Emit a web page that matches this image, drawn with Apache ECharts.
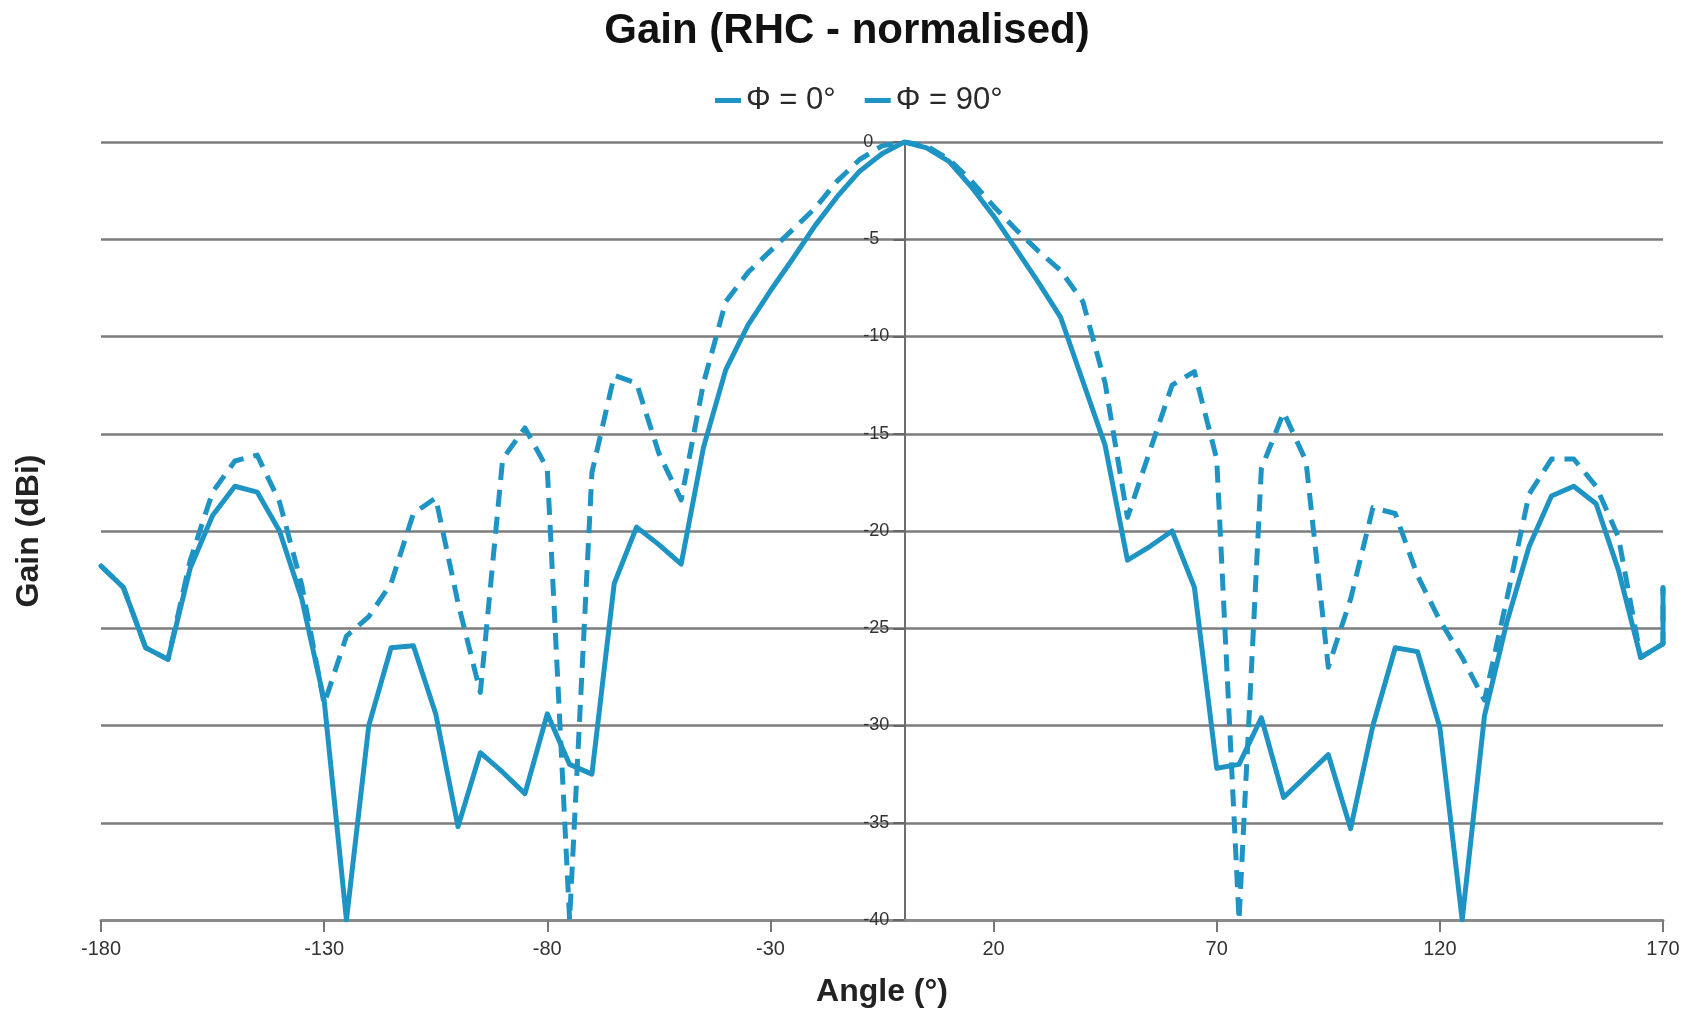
<!DOCTYPE html>
<html><head><meta charset="utf-8">
<script src="https://cdn.jsdelivr.net/npm/echarts@6/dist/echarts.min.js"></script>
<style>html,body{margin:0;padding:0;background:#fff}#c{width:1694px;height:1010px}</style>
</head><body><div id="c"></div>
<script>
// Angle (deg); last point is the 175 deg sample that the original plot clamps onto its 170 deg edge
const angles = [-180,-175,-170,-165,-160,-155,-150,-145,-140,-135,-130,-125,-120,-115,-110,-105,-100,-95,-90,-85,-80,-75,-70,-65,-60,-55,-50,-45,-40,-35,-30,-25,-20,-15,-10,-5,0,5,10,15,20,25,30,35,40,45,50,55,60,65,70,75,80,85,90,95,100,105,110,115,120,125,130,135,140,145,150,155,160,165,170,170];
const gainPhi0 = [-21.8,-22.9,-26.0,-26.6,-21.9,-19.2,-17.7,-18.0,-20.0,-23.5,-28.7,-40.0,-30.0,-26.0,-25.9,-29.4,-35.2,-31.4,-32.4,-33.5,-29.4,-32.0,-32.5,-22.7,-19.8,-20.7,-21.7,-15.7,-11.7,-9.4,-7.65,-6.0,-4.3,-2.8,-1.5,-0.6,0,-0.3,-1.0,-2.3,-3.8,-5.5,-7.2,-9.0,-12.3,-15.6,-21.5,-20.8,-20.0,-22.9,-32.2,-32.0,-29.6,-33.7,-32.6,-31.5,-35.3,-30.0,-26.0,-26.2,-30.1,-40.0,-29.5,-24.7,-20.8,-18.2,-17.7,-18.6,-22.0,-26.5,-25.8,-22.9];
const gainPhi90 = [-21.8,-22.9,-26.0,-26.6,-21.5,-18.0,-16.4,-16.1,-18.5,-22.8,-28.9,-25.4,-24.4,-22.7,-19.1,-18.3,-23.7,-28.3,-16.3,-14.7,-16.8,-40.0,-17.0,-12.0,-12.4,-16.0,-18.4,-12.4,-8.2,-6.7,-5.6,-4.5,-3.4,-2.0,-0.9,-0.2,0,-0.2,-0.9,-2.0,-3.3,-4.5,-5.6,-6.6,-8.2,-12.4,-19.3,-15.9,-12.5,-11.8,-16.3,-40.0,-16.8,-13.9,-16.4,-27.0,-23.5,-18.8,-19.1,-22.3,-24.6,-26.5,-28.7,-23.5,-18.1,-16.3,-16.3,-17.7,-20.3,-26.5,-25.8,-22.9];
const xTickValues = [-180,-130,-80,-30,20,70,120,170];
const seriesNames = ['Φ = 0°','Φ = 90°'];

const FONT = "'Liberation Sans', Arial, sans-serif";
const lineColor = '#1e94c4';
const GRID_LEFT = 101;
const chart = echarts.init(document.getElementById('c'), null, {renderer:'canvas'});
chart.setOption({
  animation:false,
  backgroundColor:'#ffffff',
  title:{text:'Gain (RHC - normalised)', left:'center', top:5,
    textStyle:{fontFamily:FONT, fontSize:42, fontWeight:'bold', color:'#111'}},
  legend:{left:710, top:80, icon:'rect', itemWidth:26, itemHeight:5, itemGap:29,
    data:seriesNames, textStyle:{fontFamily:FONT, fontSize:31, color:'#2a2a2a'}},
  grid:{left:GRID_LEFT, right:31, top:142, bottom:90, outerBoundsMode:'none', containLabel:false},
  xAxis:{type:'value', min:-180, max:170,
    name:'Angle (°)', nameLocation:'middle', nameGap:56,
    nameTextStyle:{fontFamily:FONT, fontSize:32, fontWeight:'bold', color:'#222'},
    axisLine:{onZero:false, lineStyle:{color:'#8a8a8a', width:3}},
    axisTick:{customValues:xTickValues, length:12, lineStyle:{color:'#777', width:2}},
    axisLabel:{customValues:xTickValues, margin:19, fontFamily:FONT, fontSize:20, color:'#333'},
    splitLine:{show:false}},
  yAxis:[{type:'value', min:-40, max:0, interval:5, position:'left', offset:0,
      axisLine:{onZero:false, lineStyle:{color:'#6e6e6e', width:2}},
      axisTick:{length:11, lineStyle:{color:'#666', width:2}},
      axisLabel:{align:'left', margin:41, fontFamily:FONT, fontSize:18, color:'#333'},
      splitLine:{lineStyle:{color:'#7c7c7c', width:2.5}}},
    {type:'value', min:-40, max:0, position:'left',
      name:'Gain (dBi)', nameLocation:'middle', nameGap:56,
      nameTextStyle:{fontFamily:FONT, fontSize:32, fontWeight:'bold', color:'#222'},
      axisLine:{show:false, onZero:false}, axisTick:{show:false}, axisLabel:{show:false}, splitLine:{show:false}}],
  series:[
    {name:seriesNames[0], type:'line', yAxisIndex:0, symbol:'none', showSymbol:false, clip:true,
      data:angles.map((a,i)=>[a,gainPhi0[i]]),
      itemStyle:{color:lineColor},
      lineStyle:{color:lineColor, width:5, join:'round', cap:'round'}},
    {name:seriesNames[1], type:'line', yAxisIndex:0, symbol:'none', showSymbol:false, clip:true,
      data:angles.map((a,i)=>[a,gainPhi90[i]]),
      itemStyle:{color:lineColor},
      lineStyle:{color:lineColor, width:5, type:[17,10], join:'round', cap:'butt'}}
  ]
});
// place the value axis where angle = 0 (as in the original), using the library's own x scale
const px0 = chart.convertToPixel({xAxisIndex:0}, 0);
chart.setOption({yAxis:[{offset: GRID_LEFT - px0}, {}]});
</script></body></html>
